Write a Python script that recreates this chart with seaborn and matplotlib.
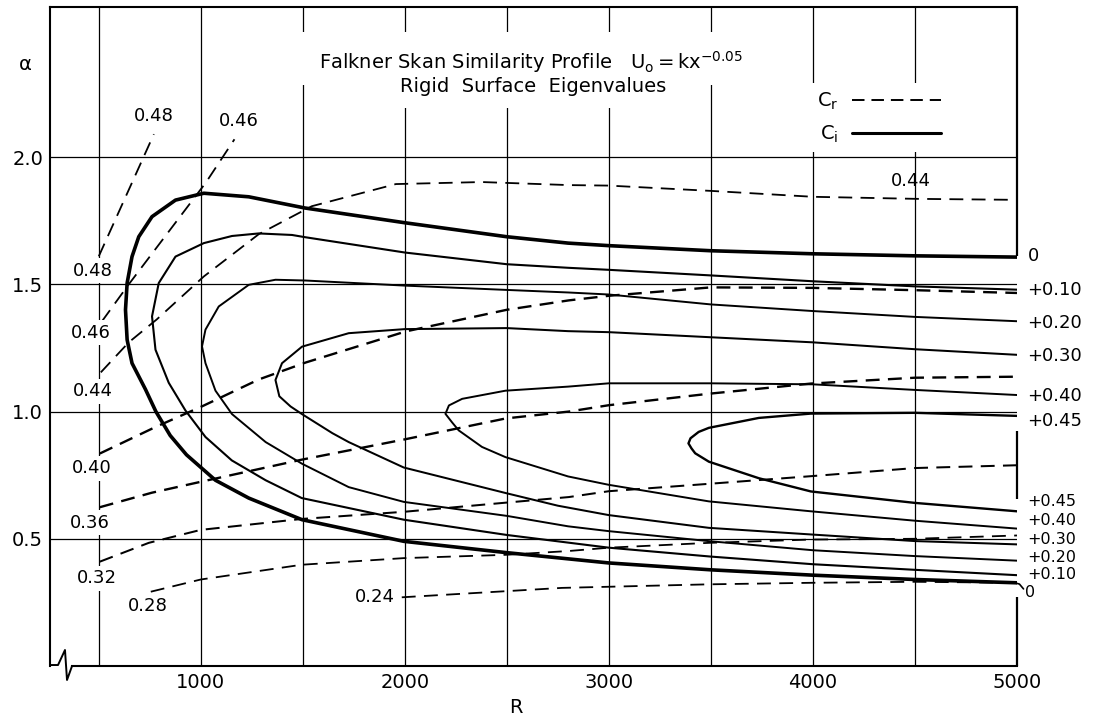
import matplotlib
matplotlib.use("Agg")
import matplotlib.pyplot as plt
import seaborn as sns
import pandas as pd
from matplotlib.lines import Line2D
from matplotlib.patches import Rectangle

# ---------------- data ----------------
# Ci contours, each traced from the upper-right end, round the nose, to the lower-right end
ci_names = ["0", "+0.10", "+0.20", "+0.30", "+0.40", "+0.45"]

ci_0_R = [5000, 4500, 4000, 3500, 3000, 2800, 2500, 2000, 1510, 1235, 1015, 876, 761, 696, 663, 639,
          631, 639, 663, 729, 780, 850, 930, 1072, 1235, 1496, 1995, 2493, 3000, 3500, 4000, 4500, 5000]
ci_0_a = [1.607, 1.612, 1.62, 1.632, 1.652, 1.662, 1.687, 1.742, 1.80, 1.844, 1.858, 1.831, 1.766, 1.687,
          1.609, 1.505, 1.40, 1.282, 1.19, 1.087, 1.0, 0.906, 0.83, 0.73, 0.66, 0.575, 0.49, 0.446,
          0.405, 0.378, 0.357, 0.34, 0.327]

ci_10_R = [5000, 4500, 4000, 3500, 3000, 2800, 2500, 2000, 1513, 1447, 1284, 1153, 1015, 876, 794, 761,
           778, 843, 925, 1023, 1152, 1318, 1495, 1995, 2500, 3000, 3500, 4000, 4500, 5000]
ci_10_a = [1.479, 1.492, 1.512, 1.535, 1.557, 1.565, 1.579, 1.625, 1.685, 1.694, 1.70, 1.69, 1.662,
           1.609, 1.505, 1.374, 1.243, 1.113, 1.004, 0.90, 0.808, 0.73, 0.66, 0.575, 0.515, 0.465,
           0.43, 0.40, 0.378, 0.357]

ci_20_R = [5000, 4500, 4000, 3500, 3000, 2800, 2500, 2000, 1513, 1366, 1235, 1088, 1023, 1006, 1023,
           1072, 1153, 1318, 1496, 1725, 1995, 2500, 2800, 3000, 3500, 4000, 4500, 5000]
ci_20_a = [1.355, 1.372, 1.395, 1.421, 1.46, 1.468, 1.478, 1.495, 1.515, 1.518, 1.498, 1.413, 1.322,
           1.256, 1.19, 1.082, 0.99, 0.88, 0.795, 0.703, 0.645, 0.59, 0.549, 0.53, 0.49, 0.455,
           0.432, 0.414]

ci_30_R = [5000, 4500, 4000, 3500, 3000, 2800, 2500, 2000, 1725, 1496, 1398, 1366, 1385, 1440, 1496,
           1645, 1725, 1995, 2493, 2750, 3000, 3490, 3990, 4500, 5000]
ci_30_a = [1.223, 1.245, 1.272, 1.292, 1.312, 1.316, 1.328, 1.324, 1.308, 1.255, 1.19, 1.124, 1.06,
           1.02, 0.99, 0.915, 0.88, 0.78, 0.68, 0.63, 0.593, 0.543, 0.517, 0.491, 0.478]

ci_40_R = [5000, 4500, 4000, 3500, 3000, 2800, 2493, 2281, 2216, 2199, 2231, 2264, 2378, 2493, 2800,
           3000, 3490, 3990, 4500, 5000]
ci_40_a = [1.065, 1.085, 1.107, 1.111, 1.111, 1.098, 1.082, 1.05, 1.024, 0.991, 0.958, 0.926, 0.861,
           0.821, 0.745, 0.712, 0.647, 0.608, 0.571, 0.54]

ci_45_R = [5000, 4500, 3990, 3735, 3490, 3440, 3400, 3390, 3405, 3423, 3490, 3735, 3990, 4500, 5000]
ci_45_a = [0.983, 0.995, 0.992, 0.975, 0.936, 0.92, 0.895, 0.875, 0.855, 0.836, 0.803, 0.738, 0.686,
           0.641, 0.608]

# Cr curves (dashed)
cr_names = ["0.48", "0.46", "0.44", "0.40", "0.36", "0.32", "0.28", "0.24"]
cr_48_R = [500, 770]
cr_48_a = [1.61, 2.09]
cr_46_R = [515, 647, 1025, 1165]
cr_46_a = [1.354, 1.50, 1.90, 2.07]
cr_44_R = [510, 647, 784, 1015, 1284, 1544, 1956, 2377, 2804, 3000, 3505, 4000, 4500, 5000]
cr_44_a = [1.154, 1.272, 1.362, 1.531, 1.697, 1.807, 1.894, 1.902, 1.89, 1.888, 1.867, 1.844, 1.836, 1.832]
cr_40_R = [505, 780, 1005, 1284, 1515, 2005, 2500, 2804, 3000, 3500, 4000, 4500, 5000]
cr_40_a = [0.835, 0.94, 1.02, 1.126, 1.193, 1.315, 1.40, 1.437, 1.455, 1.488, 1.486, 1.477, 1.466]
cr_36_R = [505, 760, 1000, 1495, 1995, 2495, 2804, 3000, 3490, 3990, 4500, 5000]
cr_36_a = [0.624, 0.681, 0.724, 0.811, 0.89, 0.973, 1.0, 1.025, 1.07, 1.11, 1.133, 1.137]
cr_32_R = [505, 745, 1000, 1495, 1995, 2495, 2804, 3000, 3490, 3990, 4500, 5000]
cr_32_a = [0.41, 0.484, 0.535, 0.578, 0.606, 0.642, 0.664, 0.687, 0.716, 0.746, 0.778, 0.789]
cr_28_R = [755, 1000, 1495, 1995, 2495, 2804, 3000, 3490, 3990, 4500, 5000]
cr_28_a = [0.292, 0.34, 0.398, 0.424, 0.437, 0.452, 0.465, 0.484, 0.497, 0.50, 0.513]
cr_24_R = [1985, 2770, 3490, 3990, 4500, 5000]
cr_24_a = [0.27, 0.307, 0.321, 0.327, 0.331, 0.327]

# label positions
ci_upper_label_a = [1.61, 1.476, 1.349, 1.218, 1.063, 0.962]
ci_lower_label_a = [0.288, 0.358, 0.428, 0.498, 0.570, 0.645]
cr_label_text = ["0.48", "0.46", "0.48", "0.46", "0.44", "0.40", "0.36", "0.32", "0.28", "0.24", "0.44"]
cr_label_R = [768, 1187, 470, 460, 470, 465, 455, 490, 739, 1852, 4480]
cr_label_a = [2.16, 2.14, 1.553, 1.31, 1.08, 0.777, 0.563, 0.345, 0.235, 0.27, 1.905]

x_major = [1000, 2000, 3000, 4000, 5000]
x_minor = [500, 1500, 2500, 3500, 4500]
y_major = [0.5, 1.0, 1.5, 2.0]

# ---------------- tidy table ----------------
ci_R = [ci_0_R, ci_10_R, ci_20_R, ci_30_R, ci_40_R, ci_45_R]
ci_A = [ci_0_a, ci_10_a, ci_20_a, ci_30_a, ci_40_a, ci_45_a]
cr_R = [cr_48_R, cr_46_R, cr_44_R, cr_40_R, cr_36_R, cr_32_R, cr_28_R, cr_24_R]
cr_A = [cr_48_a, cr_46_a, cr_44_a, cr_40_a, cr_36_a, cr_32_a, cr_28_a, cr_24_a]
rows = []
for kind, names, Rs, As in (("Ci", ci_names, ci_R, ci_A), ("Cr", cr_names, cr_R, cr_A)):
    for n, R, A in zip(names, Rs, As):
        for i, (r, a) in enumerate(zip(R, A)):
            rows.append(dict(kind=kind, curve=n, R=r, alpha=a, order=i))
df = pd.DataFrame(rows)

# ---------------- style ----------------
sns.set_theme(style="white", rc={"text.color": "black", "axes.labelcolor": "black",
                                 "xtick.color": "black", "ytick.color": "black"})
plt.rcParams["font.family"] = ["DejaVu Sans"]
plt.rcParams["lines.scale_dashes"] = False
plt.rcParams["mathtext.fontset"] = "dejavusans"

fig = plt.figure(figsize=(10.94, 7.19), dpi=100)
ax = fig.add_axes([0.0457, 0.0737, 0.8839, 0.9166])

ci_lw = {"0": 2.6, "+0.10": 1.5, "+0.20": 1.4, "+0.30": 1.45, "+0.40": 1.4, "+0.45": 1.7}
cr_lw = {"0.48": 1.3, "0.46": 1.3, "0.44": 1.3, "0.40": 1.7, "0.36": 1.7,
         "0.32": 1.45, "0.28": 1.3, "0.24": 1.3}

for n in ci_names:
    sub = df[(df.kind == "Ci") & (df.curve == n)]
    sns.lineplot(data=sub, x="R", y="alpha", sort=False, estimator=None, ax=ax,
                 color="black", lw=ci_lw[n], zorder=2)
for n in cr_names:
    sub = df[(df.kind == "Cr") & (df.curve == n)]
    sns.lineplot(data=sub, x="R", y="alpha", sort=False, estimator=None, ax=ax,
                 color="black", lw=cr_lw[n], zorder=2)
    ax.lines[-1].set_dashes((10, 6))

ax.set_xlim(261, 5000)
ax.set_ylim(0, 2.59)
ax.set_xticks(x_major)
ax.set_xticks(x_minor, minor=True)
ax.set_yticks(y_major)
ax.set_yticklabels([f"{v:.1f}" for v in y_major])
ax.tick_params(which="both", length=0)
ax.tick_params(axis="x", labelsize=14, pad=5, labelcolor="black")
ax.tick_params(axis="y", labelsize=14, pad=5, labelcolor="black")
ax.set_axisbelow(True)
ax.grid(True, which="both", axis="x", color="black", lw=0.9)
ax.grid(True, which="major", axis="y", color="black", lw=0.9)
ax.get_xgridlines()[-1].set_visible(False)

ax.set_xlabel("R", fontsize=14, color="black")
ax.xaxis.set_label_coords(0.482, -0.048)
ax.set_ylabel("")
ax.text(-0.026, 0.913, "α", transform=ax.transAxes, ha="center", va="center",
        fontsize=14, color="black")

# frame: full top / left, broken right edge and a break mark bottom-left
for s in ("top", "left", "bottom"):
    ax.spines[s].set_color("black")
    ax.spines[s].set_linewidth(1.5)
ax.spines["right"].set_visible(False)
ax.spines["bottom"].set_bounds(369, 5000)
ax.vlines([5000, 5000, 5000], [1.61, 0.655, 0.0], [2.59, 0.925, 0.27],
          colors="black", lw=1.6, clip_on=False, zorder=2.5)
ax.plot([0, 0.0083, 0.0155, 0.0176, 0.0228], [0.0015, 0.0015, 0.0243, -0.0212, 0.0],
        transform=ax.transAxes, color="black", lw=1.4, clip_on=False)

# hook from the lower neutral curve to its label
ax.plot([4985, 5012, 5032], [0.328, 0.322, 0.303], color="black", lw=1.2, clip_on=False)

# right-hand Ci labels
for lab, a in zip(ci_names, ci_upper_label_a):
    ax.text(5052, a, lab, ha="left", va="center", fontsize=13, color="black", clip_on=False)
for lab, a in zip(ci_names, ci_lower_label_a):
    ax.text(5052 if lab != "0" else 5040, a, lab, ha="left", va="center",
            fontsize=11.5, color="black", clip_on=False)

# Cr labels (white background cuts the grid line at R = 500)
for t, r, a in zip(cr_label_text, cr_label_R, cr_label_a):
    box = None if r > 4000 else dict(facecolor="white", edgecolor="none", pad=2.5)
    ax.text(r, a, t, ha="center", va="center", fontsize=13, color="black", bbox=box, zorder=4)

# title block: white areas that interrupt the grid behind the lettering
ax.add_patch(Rectangle((0.219, 0.882), 0.562, 0.080, transform=ax.transAxes,
                       facecolor="white", edgecolor="none", zorder=1))
ax.add_patch(Rectangle((0.338, 0.847), 0.326, 0.050, transform=ax.transAxes,
                       facecolor="white", edgecolor="none", zorder=1))
ax.text(0.497, 0.917, r"Falkner Skan Similarity Profile   $\mathrm{U_o = kx^{-0.05}}$",
        transform=ax.transAxes, ha="center", va="center", fontsize=14, color="black", zorder=5)
ax.text(0.50, 0.879, "Rigid  Surface  Eigenvalues", transform=ax.transAxes,
        ha="center", va="center", fontsize=14, color="black", zorder=5)

# legend
handles = [Line2D([], [], color="black", lw=1.4, dashes=(9, 5)),
           Line2D([], [], color="black", lw=2.2)]
leg = ax.legend(handles, [r"C$_\mathrm{r}$", r"C$_\mathrm{i}$"], loc="upper left",
                bbox_to_anchor=(0.775, 0.90),
                markerfirst=False, frameon=True, fancybox=False, edgecolor="none",
                facecolor="white", framealpha=1, fontsize=14, handlelength=4.6,
                handletextpad=0.7, labelspacing=0.6, borderpad=0.4)
for t in leg.get_texts():
    t.set_color("black")

fig.savefig("out.png", dpi=100)
